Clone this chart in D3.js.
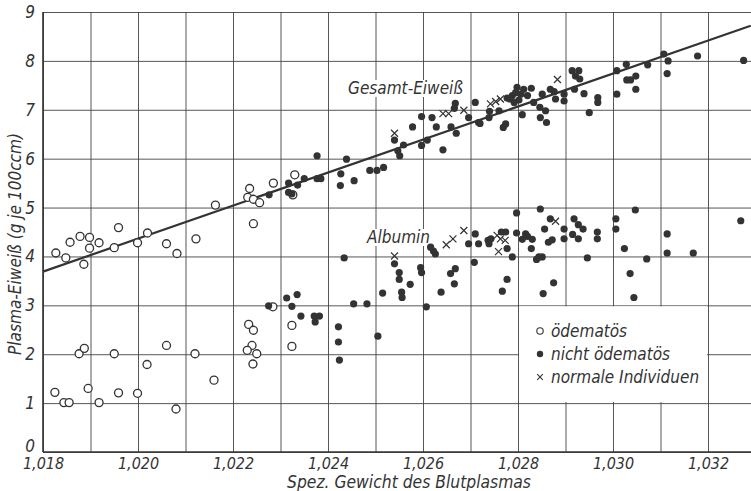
<!DOCTYPE html>
<html>
<head>
<meta charset="utf-8">
<script src="https://cdn.jsdelivr.net/npm/d3@7"></script>
<style>
  body { margin: 0; background: #fff; }
  text { font-family: "DejaVu Sans Condensed", "Liberation Sans Narrow", sans-serif; font-style: italic; fill: #333; }
</style>
</head>
<body>
<div id="chart"></div>
<script>
// ödematös (open circles)
const oedemGesamt = [
  [1.01827,4.07],[1.01848,3.97],[1.01857,4.29],[1.01878,4.41],[1.01898,4.39],[1.01898,4.17],
  [1.01886,3.84],[1.01918,4.28],[1.01959,4.59],[1.0195,4.18],[1.01999,4.28],[1.0202,4.48],
  [1.0206,4.26],[1.02082,4.06],[1.02122,4.36],[1.02163,5.05],[1.0233,5.67],[1.02285,5.50],
  [1.02235,5.39],[1.02231,5.21],[1.02243,5.17],[1.02256,5.10],[1.02326,5.26],[1.02243,4.67]
];
const oedemAlbumin = [
  [1.01825,1.22],[1.01844,1.01],[1.01855,1.01],[1.01876,2.01],[1.01887,2.12],[1.01895,1.30],
  [1.01918,1.01],[1.0195,2.01],[1.01959,1.21],[1.01999,1.20],[1.02019,1.79],[1.0206,2.18],
  [1.0208,0.88],[1.0212,2.01],[1.0216,1.47],[1.02284,2.97],[1.02233,2.61],[1.02243,2.49],
  [1.0224,2.18],[1.0223,2.08],[1.0225,2.01],[1.02242,1.80],[1.02324,2.59],[1.02324,2.16]
];
// nicht ödematös (filled circles)
const nichtGesamt = [
  [1.02276,5.26],[1.02317,5.50],[1.02336,5.46],[1.02317,5.31],[1.02324,5.28],[1.0235,5.59],
  [1.02377,5.59],[1.02385,5.59],[1.02427,5.69],[1.02426,5.45],[1.02455,5.55],[1.02488,5.76],
  [1.02503,5.76],[1.02517,5.82],[1.02377,6.06],[1.02439,5.99],[1.0254,6.38],[1.02547,6.16],
  [1.02551,6.06],[1.02559,6.28],[1.02578,6.65],[1.02597,6.86],[1.02597,6.27],[1.02609,6.38],
  [1.02619,6.84],[1.02628,6.65],[1.02642,6.18],[1.02659,6.65],[1.0267,6.52],[1.02668,7.13],
  [1.02666,7.03],[1.02696,6.84],[1.0271,7.15],[1.02717,6.74],[1.0272,6.72],[1.02739,6.84],
  [1.0274,6.97],[1.0276,6.98],[1.02769,6.64],[1.02774,6.71],
  [1.02798,7.46],[1.02812,7.42],[1.02828,7.44],[1.02788,7.29],[1.02795,7.35],[1.02806,7.32],
  [1.0282,7.29],[1.02783,7.22],[1.02792,7.15],[1.02802,7.20],[1.02777,7.24],[1.02809,6.90],
  [1.02833,7.15],[1.02851,7.32],[1.02846,7.05],[1.02858,6.98],[1.02847,6.84],[1.0286,6.74],
  [1.03178,8.10],[1.03275,8.01],[1.03107,8.14],[1.03116,8.00],[1.03073,7.92],[1.03114,7.74],
  [1.03028,7.93],[1.03008,7.80],[1.03029,7.61],[1.03037,7.61],[1.03048,7.69],[1.03048,7.42],
  [1.03008,7.32],[1.02968,7.25],[1.02968,7.15],[1.0295,6.94],[1.02939,7.33],[1.02919,7.42],
  [1.02914,7.80],[1.02928,7.80],[1.02921,7.69],[1.0293,7.63],[1.02897,7.32],[1.02897,7.18],
  [1.02879,7.22],[1.02868,7.42],[1.02876,7.37]
];
const nichtAlbumin = [
  [1.02434,3.97],[1.02275,2.99],[1.02313,3.15],[1.02335,3.22],[1.02324,2.98],[1.02343,2.78],
  [1.02371,2.78],[1.02382,2.78],[1.02373,2.66],[1.02422,2.56],[1.02422,2.25],[1.02424,1.88],
  [1.02454,3.03],[1.02482,3.03],[1.02515,3.25],[1.02505,2.37],[1.0254,3.85],[1.0255,3.67],
  [1.0255,3.53],[1.02555,3.27],[1.02556,3.16],[1.02573,3.43],[1.02595,3.77],[1.02597,3.67],
  [1.02607,2.97],[1.02616,4.19],[1.02622,4.11],[1.02626,4.05],[1.02638,3.27],[1.02658,3.65],
  [1.02668,3.75],[1.02666,3.44],[1.02696,4.26],[1.02708,3.88],[1.0271,4.46],[1.02717,4.26],
  [1.02737,4.33],[1.02739,4.26],[1.02743,4.36],[1.02767,3.29],[1.02777,3.53],[1.02765,4.50],
  [1.02774,4.50],[1.02777,4.16],[1.02788,3.99],[1.02797,4.48],[1.02797,4.89],[1.02809,4.35],
  [1.02816,4.46],[1.0282,4.41],[1.0283,4.35],[1.02828,4.16],[1.02839,3.94],[1.02844,3.99],
  [1.02851,3.99],[1.02847,4.97],[1.02856,4.56],[1.02853,3.24],[1.02864,4.29],[1.02872,4.34],
  [1.03047,4.95],[1.03269,4.73],[1.03006,4.77],[1.03006,4.56],[1.02967,4.50],[1.02967,4.36],
  [1.02918,4.77],[1.02927,4.65],[1.02937,4.56],[1.02915,4.45],[1.02927,4.36],[1.02897,4.56],
  [1.02897,4.36],[1.02868,4.77],[1.02946,3.97],[1.03024,4.16],[1.03071,3.95],[1.03114,4.46],
  [1.03114,4.07],[1.03169,4.07],[1.03036,3.65],[1.03044,3.16],[1.02875,3.46]
];
// normale Individuen (crosses)
const normalGesamt = [
  [1.0254,6.52],[1.02642,6.92],[1.02654,6.92],[1.02686,6.99],[1.02742,7.12],[1.02753,7.17],
  [1.02763,7.22],[1.02883,7.62]
];
const normalAlbumin = [
  [1.0254,4.01],[1.02649,4.24],[1.02663,4.36],[1.02686,4.53],[1.02756,4.43],[1.02763,4.36],
  [1.02773,4.33],[1.02759,4.10],[1.02879,4.72]
];
// Ausgleichsgerade Gesamt-Eiweiß
const trendLine = [[1.018,3.69],[1.0329,8.72]];

const gridX = d3.range(18, 33).map(i => 1 + i / 1000);
const labelX = [1.018, 1.020, 1.022, 1.024, 1.026, 1.028, 1.030, 1.032];
const gridY = d3.range(0, 10);
const legendItems = ["ödematös", "nicht ödematös", "normale Individuen"];

const width = 751, height = 491;
const left = 43, right = 751;

const x = d3.scaleLinear([1.018, 1.032], [43, 708]);
const y = d3.scaleLinear([0, 9], [452, 12]);

const svg = d3.select("#chart").append("svg")
    .attr("width", width)
    .attr("height", height);

// vertical grid
svg.append("g")
    .attr("transform", `translate(0,${y(0)})`)
    .call(d3.axisBottom(x).tickValues(gridX).tickSize(-(y(0) - y(9))).tickFormat(""))
    .call(g => g.select(".domain").remove())
    .call(g => g.selectAll(".tick line").attr("stroke", "#444").attr("stroke-width", 0.9));

// horizontal grid
svg.append("g")
    .attr("transform", `translate(${left},0)`)
    .call(d3.axisLeft(y).tickValues(gridY).tickSize(-(right - left)).tickFormat(""))
    .call(g => g.select(".domain").remove())
    .call(g => g.selectAll(".tick line").attr("stroke", "#444").attr("stroke-width", 0.9));

// legend box blanks the grid cells behind it
svg.append("rect")
    .attr("x", x(1.028) + 1).attr("y", y(3) + 1)
    .attr("width", x(1.032) - x(1.028) - 2)
    .attr("height", y(1) - y(3) - 2)
    .attr("fill", "#fff");

// axis lines
svg.append("line").attr("x1", left).attr("x2", left).attr("y1", y(9)).attr("y2", y(0))
    .attr("stroke", "#333").attr("stroke-width", 1.6);
svg.append("line").attr("x1", left).attr("x2", right).attr("y1", y(0)).attr("y2", y(0))
    .attr("stroke", "#333").attr("stroke-width", 1.6);

// tick labels
svg.append("g")
    .attr("transform", `translate(0,${y(0)})`)
    .call(d3.axisBottom(x).tickValues(labelX).tickSize(0).tickPadding(6)
        .tickFormat(d => d3.format(".3f")(d).replace(".", ",")))
    .call(g => g.select(".domain").remove())
    .call(g => g.selectAll("text").attr("font-size", 16).attr("font-family", null).attr("fill", "#333"));

svg.append("g")
    .attr("transform", `translate(${left},0)`)
    .call(d3.axisLeft(y).tickValues(gridY).tickSize(0).tickPadding(8))
    .call(g => g.select(".domain").remove())
    .call(g => g.selectAll("text").attr("font-size", 17).attr("font-family", null).attr("fill", "#333"))
    .call(g => g.selectAll(".tick").filter(d => d === 0).select("text").attr("dy", "-0.05em"));

// axis titles
svg.append("text")
    .attr("x", 409).attr("y", 488)
    .attr("text-anchor", "middle")
    .attr("font-size", 17)
    .attr("textLength", 244).attr("lengthAdjust", "spacingAndGlyphs")
    .text("Spez. Gewicht des Blutplasmas");

svg.append("text")
    .attr("transform", "translate(21,244) rotate(-90)")
    .attr("text-anchor", "middle")
    .attr("font-size", 17)
    .attr("textLength", 222).attr("lengthAdjust", "spacingAndGlyphs")
    .text("Plasma-Eiweiß (g je 100ccm)");

// regression line
svg.append("path")
    .datum(trendLine)
    .attr("d", d3.line(d => x(d[0]), d => y(d[1])))
    .attr("fill", "none")
    .attr("stroke", "#333")
    .attr("stroke-width", 2.2);

// curve labels on white patches
function curveLabel(tx, ty, len, str) {
  svg.append("rect").attr("x", tx - 2).attr("y", ty - 14).attr("width", len + 4).attr("height", 17).attr("fill", "#fff");
  svg.append("text").attr("x", tx).attr("y", ty).attr("font-size", 17)
      .attr("textLength", len).attr("lengthAdjust", "spacingAndGlyphs").text(str);
}
curveLabel(348, 94, 115, "Gesamt-Eiweiß");
curveLabel(367, 243, 63, "Albumin");

// points
const pts = svg.append("g");
function openDots(data) {
  pts.append("g").selectAll("circle").data(data).join("circle")
      .attr("cx", d => x(d[0])).attr("cy", d => y(d[1])).attr("r", 4)
      .attr("fill", "#fff").attr("stroke", "#333").attr("stroke-width", 1.3);
}
function filledDots(data) {
  pts.append("g").selectAll("circle").data(data).join("circle")
      .attr("cx", d => x(d[0])).attr("cy", d => y(d[1])).attr("r", 3.6)
      .attr("fill", "#333");
}
const cross = s => `M${-s},${-s}L${s},${s}M${-s},${s}L${s},${-s}`;
function crosses(data) {
  pts.append("g").selectAll("path").data(data).join("path")
      .attr("transform", d => `translate(${x(d[0])},${y(d[1])})`)
      .attr("d", cross(3.5))
      .attr("stroke", "#333").attr("stroke-width", 1.2).attr("fill", "none");
}
openDots(oedemGesamt);
openDots(oedemAlbumin);
filledDots(nichtGesamt);
filledDots(nichtAlbumin);
crosses(normalGesamt);
crosses(normalAlbumin);

// legend
const lg = svg.append("g").attr("transform", `translate(540,331)`);
legendItems.forEach((name, i) => {
  const row = lg.append("g").attr("transform", `translate(0,${i * 23})`);
  if (i === 0) row.append("circle").attr("r", 3.2).attr("fill", "#fff").attr("stroke", "#333").attr("stroke-width", 1.1);
  if (i === 1) row.append("circle").attr("r", 3.2).attr("fill", "#333");
  if (i === 2) row.append("path").attr("d", cross(2.8)).attr("stroke", "#333").attr("stroke-width", 1.1);
  row.append("text").attr("x", 11).attr("y", 6).attr("font-size", 17).text(name);
});
</script>
</body>
</html>
